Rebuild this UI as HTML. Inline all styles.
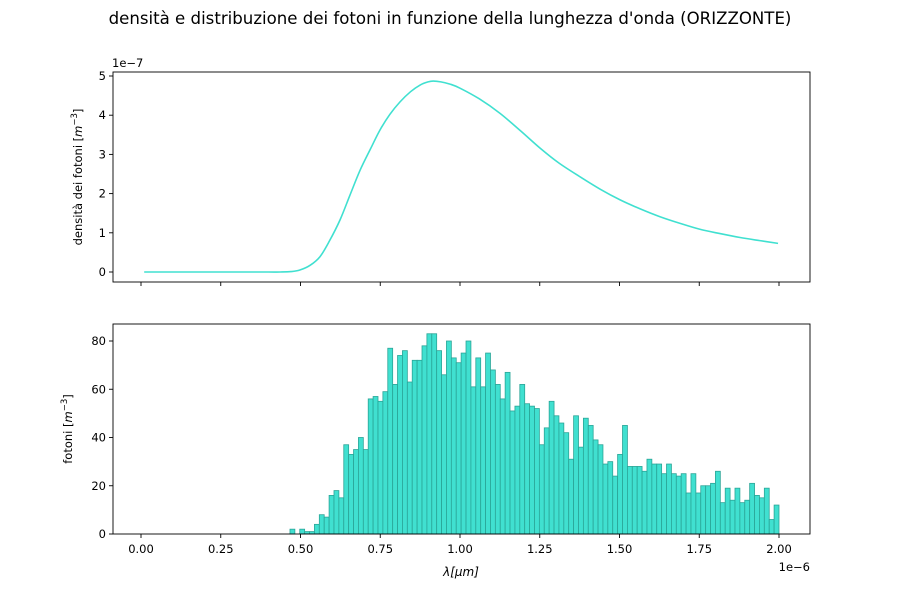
<!DOCTYPE html>
<html><head><meta charset="utf-8"><style>
body{margin:0;background:#fff}
svg text{font-family:"DejaVu Sans","Liberation Sans",sans-serif;fill:#000}
</style></head><body>
<svg id="chart" width="900" height="600" viewBox="0 0 900 600" xmlns="http://www.w3.org/2000/svg">
<rect width="900" height="600" fill="#fff"/>
<text x="450" y="24" font-size="16.6" text-anchor="middle">densità e distribuzione dei fotoni in funzione della lunghezza d'onda (ORIZZONTE)</text>
<g id="topPlot"></g>
<g id="botPlot"></g>
<text x="112" y="67" font-size="11.5">1e−7</text>
<text transform="translate(82,177) rotate(-90)" font-size="11.5" text-anchor="middle">densità dei fotoni [<tspan font-style="italic">m</tspan><tspan font-size="8.5" dy="-5">−3</tspan><tspan dy="5">]</tspan></text>
<text transform="translate(72,429) rotate(-90)" font-size="11.5" text-anchor="middle">fotoni [<tspan font-style="italic">m</tspan><tspan font-size="8.5" dy="-5">−3</tspan><tspan dy="5">]</tspan></text>
<text x="461" y="576" font-size="12" text-anchor="middle" font-style="italic">λ[μm]</text>
<text x="810" y="571" font-size="11.5" text-anchor="end">1e−6</text>
</svg>
<script>
const curveX=[0.01,0.1,0.2,0.3,0.4,0.436,0.47,0.498,0.53,0.561,0.59,0.624,0.655,0.687,0.72,0.749,0.78,0.812,0.845,0.875,0.9,0.916,0.94,0.97,1.0,1.06,1.125,1.19,1.251,1.31,1.376,1.44,1.502,1.565,1.627,1.69,1.752,1.815,1.878,1.94,1.997];
const curveY=[0,0,0,0,0,0,0.01,0.05,0.17,0.39,0.78,1.33,1.96,2.6,3.15,3.62,4.02,4.34,4.6,4.77,4.85,4.87,4.85,4.79,4.69,4.42,4.05,3.6,3.16,2.78,2.43,2.11,1.84,1.61,1.41,1.24,1.09,0.98,0.88,0.8,0.73];
const histCounts=[2,0,2,1,1,4,8,7,16,18,15,37,33,35,40,35,56,57,55,59,77,62,74,76,63,72,72,78,83,83,76,66,80,73,71,75,80,61,73,61,75,68,62,56,67,51,53,62,54,53,52,37,44,55,49,46,42,31,49,36,48,45,39,37,29,30,24,33,45,28,28,28,26,31,29,29,25,29,25,24,25,17,25,17,20,20,21,26,13,19,14,19,13,14,21,16,15,19,6,12];
const histMin=0.467, histMax=2.0;
const xTicks=[0,0.25,0.5,0.75,1.0,1.25,1.5,1.75,2.0];
const topTicks=[0,1,2,3,4,5];
const botTicks=[0,20,40,60,80];

const NS="http://www.w3.org/2000/svg";
const L=113,R=810;
const xs=v=>141+v*319;
const yTop=v=>272-v*39.2;
const yBot=v=>534-v*2.4125;
function el(tag,attrs,parent,txt){const e=document.createElementNS(NS,tag);for(const k in attrs)e.setAttribute(k,attrs[k]);if(txt!=null)e.textContent=txt;parent.appendChild(e);return e;}
const gTop=document.getElementById('topPlot'),gBot=document.getElementById('botPlot');

const bw=(histMax-histMin)/histCounts.length;
histCounts.forEach((c,i)=>{
  if(c<=0)return;
  const x0=xs(histMin+i*bw),x1=xs(histMin+(i+1)*bw);
  const r=el('rect',{x:x0,y:yBot(c),width:x1-x0,height:yBot(0)-yBot(c),fill:'#40e0d0',stroke:'#2aa597','stroke-width':0.8},gBot);
  
  
});

const P=curveX.map((x,i)=>[xs(x),yTop(curveY[i])]);
let d='M'+P[0][0]+','+P[0][1];
for(let i=0;i<P.length-1;i++){
  const p0=P[Math.max(0,i-1)],p1=P[i],p2=P[i+1],p3=P[Math.min(P.length-1,i+2)];
  const c1=[p1[0]+(p2[0]-p0[0])/6,p1[1]+(p2[1]-p0[1])/6];
  const c2=[p2[0]-(p3[0]-p1[0])/6,p2[1]-(p3[1]-p1[1])/6];
  d+=` C${c1[0]},${c1[1]} ${c2[0]},${c2[1]} ${p2[0]},${p2[1]}`;
}
const line=el('path',{d:d,fill:'none',stroke:'#40e0d0','stroke-width':1.6},gTop);



const f1=el('rect',{x:L,y:72,width:R-L,height:210,fill:'none',stroke:'#000','stroke-width':0.9},gTop);


const f2=el('rect',{x:L,y:324,width:R-L,height:210,fill:'none',stroke:'#000','stroke-width':0.9},gBot);



xTicks.forEach(t=>{
  const x=xs(t);
  el('line',{x1:x,x2:x,y1:282,y2:286,stroke:'#000','stroke-width':0.9},gTop);
  el('line',{x1:x,x2:x,y1:534,y2:538,stroke:'#000','stroke-width':0.9},gBot);
  const tl=el('text',{x:x,y:553,'font-size':11.5,'text-anchor':'middle'},gBot,t.toFixed(2));
  
  
});
topTicks.forEach(t=>{
  const y=yTop(t);
  el('line',{x1:L-4,x2:L,y1:y,y2:y,stroke:'#000','stroke-width':0.9},gTop);
  const tl=el('text',{x:L-7,y:y+4,'font-size':11.5,'text-anchor':'end'},gTop,String(t));
  
  
});
botTicks.forEach(t=>{
  const y=yBot(t);
  el('line',{x1:L-4,x2:L,y1:y,y2:y,stroke:'#000','stroke-width':0.9},gBot);
  const tl=el('text',{x:L-7,y:y+4,'font-size':11.5,'text-anchor':'end'},gBot,String(t));
  
  
});
</script>
</body></html>
